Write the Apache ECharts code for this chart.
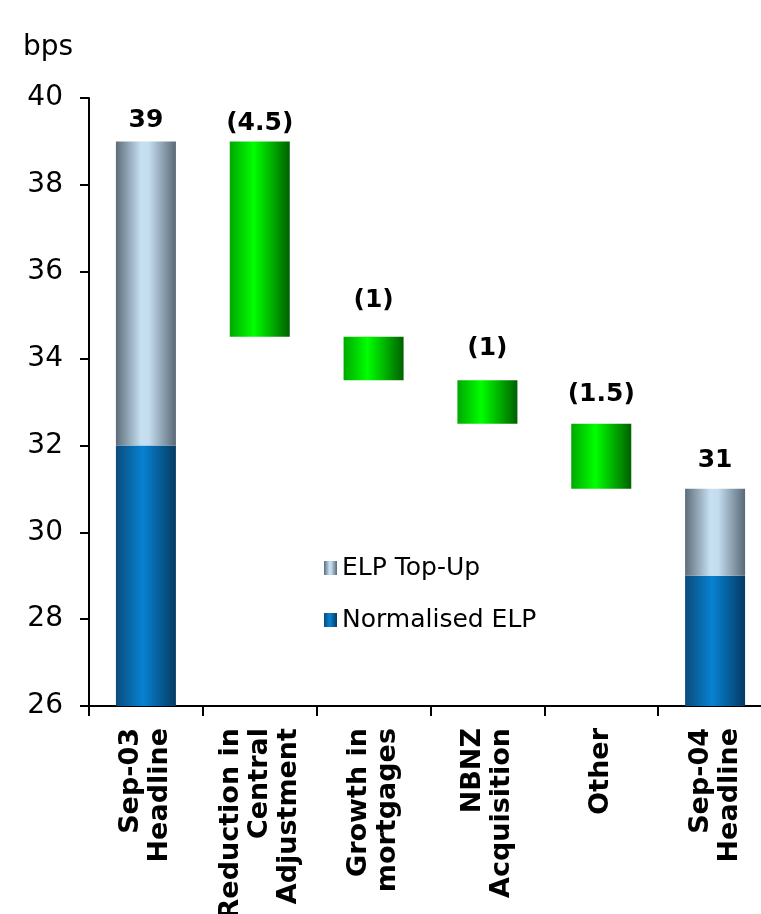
<!DOCTYPE html>
<html>
<head>
<meta charset="utf-8">
<script src="https://cdn.jsdelivr.net/npm/echarts@6/dist/echarts.min.js"></script>
<style>
  html, body { margin: 0; padding: 0; background: #fff; }
  #chart { width: 761px; height: 914px; }
</style>
</head>
<body>
<div id="chart"></div>
<script>
// Expected loss provision bridge, Sep-03 to Sep-04 (bps)
const categories = [
  'Sep-03\nHeadline',
  'Reduction in\nCentral\nAdjustment',
  'Growth in\nmortgages',
  'NBNZ\nAcquisition',
  'Other',
  'Sep-04\nHeadline'
];
// Headline totals (first and last columns)
const headlineTotals = [39, null, null, null, null, 31];
// Normalised ELP portion of each headline column
const normalisedELP = [32, null, null, null, null, 29];
// Movements between the two headlines
const movements = [null, -4.5, -1, -1, -1.5, null];

const FONT = 'DejaVu Sans';
// Gap (px) between each column top and its value label
const labelGap = [8, 5, 24, 19, 17, 16];

// Running total gives the floating base of each movement bar
const baseData = [];
const normData = [];
const topUpData = [];
const moveData = [];
let running = headlineTotals[0];
categories.forEach((c, i) => {
  if (headlineTotals[i] != null) {
    baseData.push('-');
    normData.push(normalisedELP[i]);
    topUpData.push({
      value: headlineTotals[i] - normalisedELP[i],
      label: { distance: labelGap[i] }
    });
    moveData.push('-');
    running = headlineTotals[i];
  } else {
    const after = running + movements[i];
    baseData.push(after);
    normData.push('-');
    topUpData.push('-');
    moveData.push({
      value: -movements[i],
      label: { distance: labelGap[i] }
    });
    running = after;
  }
});

function hGrad(stops) {
  return new echarts.graphic.LinearGradient(0, 0, 1, 0,
    stops.map(s => ({ offset: s[0], color: s[1] })));
}

const topUpColor = hGrad([[0, '#5d6d7a'], [0.42, '#c6e0f2'], [0.55, '#c3ddef'], [1, '#5a6976']]);
const normColor = hGrad([[0, '#0a4c7c'], [0.45, '#0782d2'], [1, '#053a62']]);
const greenColor = hGrad([[0, '#00a800'], [0.4, '#00ff00'], [1, '#006000']]);

const valueLabel = {
  show: true,
  position: 'top',
  fontFamily: FONT,
  fontSize: 25,
  fontWeight: 'bold',
  color: '#000'
};

const chart = echarts.init(document.getElementById('chart'));
chart.setOption({
  animation: false,
  title: {
    text: 'bps',
    left: 18,
    top: 29,
    textStyle: { fontFamily: FONT, fontSize: 28, fontWeight: 'normal', color: '#000' }
  },
  legend: {
    data: ['ELP Top-Up', 'Normalised ELP'],
    orient: 'vertical',
    left: 319,
    top: 550,
    itemWidth: 13,
    itemHeight: 14,
    itemGap: 26,
    icon: 'rect',
    textStyle: { fontFamily: FONT, fontSize: 25, color: '#000', lineHeight: 26 }
  },
  grid: { left: 89, top: 98, width: 683, height: 608, outerBoundsMode: 'none' },
  xAxis: {
    type: 'category',
    data: categories,
    axisLine: { lineStyle: { color: '#000', width: 2 } },
    axisTick: { show: true, length: 10, lineStyle: { color: '#000', width: 2 } },
    axisLabel: {
      interval: 0,
      rotate: 90,
      margin: 22,
      fontFamily: FONT,
      fontSize: 27,
      fontWeight: 'bold',
      lineHeight: 29,
      color: '#000'
    }
  },
  yAxis: {
    type: 'value',
    min: 26,
    max: 40,
    interval: 2,
    axisLine: { show: true, lineStyle: { color: '#000', width: 2 } },
    axisTick: { show: true, length: 9, lineStyle: { color: '#000', width: 2 } },
    splitLine: { show: false },
    axisLabel: {
      margin: 26,
      fontFamily: FONT,
      fontSize: 28,
      color: '#000'
    }
  },
  series: [
    {
      name: 'base',
      type: 'bar',
      stack: 'bridge',
      barWidth: 60,
      itemStyle: { color: 'transparent' },
      data: baseData
    },
    {
      name: 'Normalised ELP',
      type: 'bar',
      stack: 'bridge',
      barWidth: 60,
      itemStyle: { color: normColor },
      data: normData
    },
    {
      name: 'ELP Top-Up',
      type: 'bar',
      stack: 'bridge',
      barWidth: 60,
      itemStyle: { color: topUpColor },
      label: Object.assign({}, valueLabel, {
        formatter: p => String(headlineTotals[p.dataIndex])
      }),
      data: topUpData
    },
    {
      name: 'Movement',
      type: 'bar',
      stack: 'bridge',
      barWidth: 60,
      itemStyle: { color: greenColor },
      label: Object.assign({}, valueLabel, {
        formatter: p => '(' + Math.abs(movements[p.dataIndex]) + ')'
      }),
      data: moveData
    }
  ]
});
</script>
</body>
</html>
